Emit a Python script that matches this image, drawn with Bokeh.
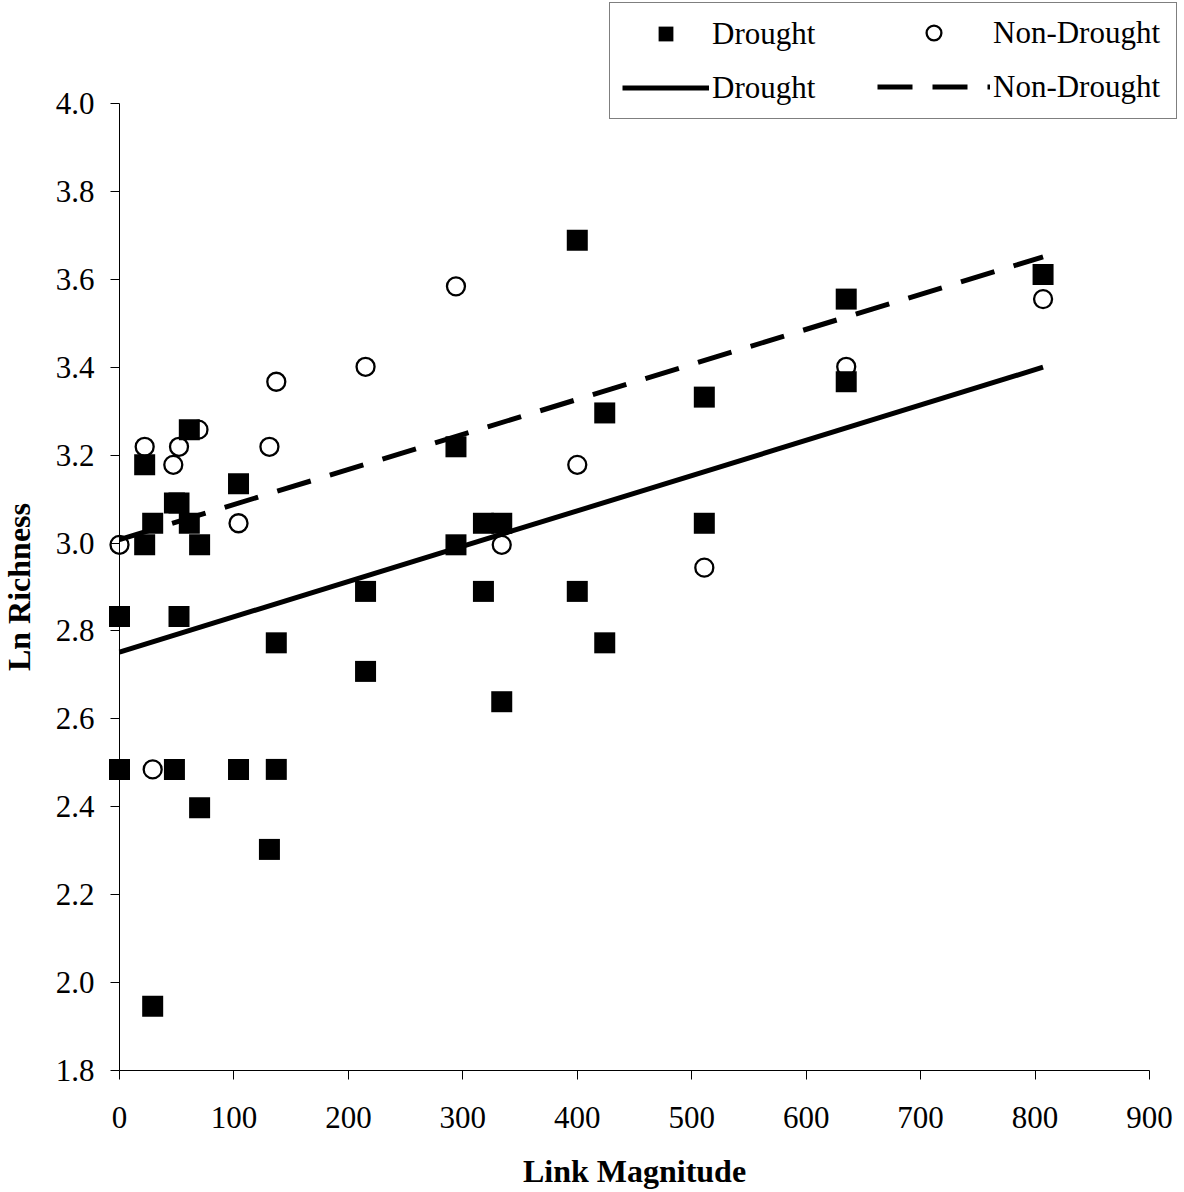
import numpy as np
from bokeh.plotting import figure
from bokeh.models import (Range1d, FixedTicker, PrintfTickFormatter, Legend,
                          LegendItem, ColumnDataSource)
from bokeh.embed import file_html
from bokeh.resources import INLINE

# Link magnitude vs. ln(species richness), drought and non-drought years
drought_x = [0, 0, 22, 22, 29, 29, 48, 52, 52, 48, 61, 61, 70, 70, 104, 104,
             137, 137, 131, 215, 215, 294, 294, 318, 334, 318, 334, 400, 400,
             424, 424, 511, 511, 635, 635, 807]
drought_y = [2.833, 2.485, 3.178, 2.996, 3.045, 1.946, 3.091, 3.091, 2.833,
             2.485, 3.045, 3.258, 2.996, 2.398, 3.135, 2.485, 2.773, 2.485,
             2.303, 2.890, 2.708, 3.219, 2.996, 3.045, 3.045, 2.890, 2.639,
             3.689, 2.890, 3.296, 2.773, 3.332, 3.045, 3.555, 3.367, 3.611]

nondrought_x = [0, 22, 29, 47, 52, 69, 104, 131, 137, 215, 294, 334, 400,
                511, 635, 807]
nondrought_y = [2.996, 3.219, 2.485, 3.178, 3.219, 3.258, 3.045, 3.219, 3.367,
                3.401, 3.584, 2.996, 3.178, 2.944, 3.401, 3.555]

# Linear fits (intercept, slope) over the sampled range of link magnitude
drought_fit = (2.752, 0.000803)
nondrought_fit = (3.008, 0.000797)
fit_x = [0, 807]

x_ticks = [0, 100, 200, 300, 400, 500, 600, 700, 800, 900]
y_ticks = [1.8, 2.0, 2.2, 2.4, 2.6, 2.8, 3.0, 3.2, 3.4, 3.6, 3.8, 4.0]

FONT = "Liberation Serif"
W, H = 1184, 1192

# Axes span 0..900 and 1.8..4.0 on a 1030 x 967 px area whose lower-left
# corner sits at (119, 1070); the drawing frame covers the whole canvas so
# that edge markers and the legend are never clipped.
ax_left, ax_bottom, ax_w, ax_h = 119, 1070, 1030, 967
x0, x1 = 0, 900
y0, y1 = 1.8, 4.0
sx = (x1 - x0) / ax_w
sy = (y1 - y0) / ax_h
x_range = Range1d(x0 - ax_left * sx, x1 + (W - ax_left - ax_w) * sx)
y_range = Range1d(y0 - (H - ax_bottom) * sy, y1 + (ax_bottom - ax_h) * sy)

p = figure(width=W, height=H, output_backend="svg", toolbar_location=None,
           x_range=x_range, y_range=y_range, min_border=0)
p.outline_line_color = None
p.grid.visible = False
p.background_fill_color = "white"
p.border_fill_color = "white"

for ax in (p.xaxis[0], p.yaxis[0]):
    ax.axis_line_color = "black"
    ax.axis_line_width = 1
    ax.major_tick_line_color = "black"
    ax.major_tick_line_width = 1
    ax.major_tick_out = 9
    ax.major_tick_in = 0
    ax.minor_tick_line_color = None
    ax.major_label_text_font = FONT
    ax.major_label_text_font_size = "31px"
    ax.major_label_text_color = "black"
    ax.axis_label_text_font = FONT
    ax.axis_label_text_font_size = "32px"
    ax.axis_label_text_font_style = "bold"
    ax.axis_label_text_color = "black"

p.xaxis.fixed_location = y0
p.yaxis.fixed_location = x0
p.xaxis.bounds = (x0, x1)
p.yaxis.bounds = (y0, y1)
p.xaxis.ticker = FixedTicker(ticks=x_ticks)
p.yaxis.ticker = FixedTicker(ticks=y_ticks)
p.yaxis.formatter = PrintfTickFormatter(format="%.1f")
p.xaxis.axis_label = "Link Magnitude"
p.yaxis.axis_label = "Ln Richness"
p.xaxis.major_label_standoff = 27
p.xaxis.axis_label_standoff = 22
p.yaxis.major_label_standoff = 16
p.yaxis.axis_label_standoff = 16

src_d = ColumnDataSource(dict(x=drought_x, y=drought_y))
src_n = ColumnDataSource(dict(x=nondrought_x, y=nondrought_y))

r_circ = p.scatter("x", "y", source=src_n, marker="circle", size=18,
                   fill_color="white", line_color="black", line_width=2.3)
r_sq = p.scatter("x", "y", source=src_d, marker="square", size=21,
                 fill_color="black", line_color=None)

fx = np.array(fit_x, dtype=float)
r_line = p.line(fx, drought_fit[0] + drought_fit[1] * fx,
                line_color="black", line_width=5)
r_dash = p.line(fx, nondrought_fit[0] + nondrought_fit[1] * fx,
                line_color="black", line_width=5, line_dash="35 20")

legend_style = dict(orientation="vertical", glyph_height=37, label_standoff=3,
                    padding=12, spacing=17, margin=0,
                    label_text_font=FONT, label_text_font_size="31px",
                    label_text_baseline="middle", label_text_color="black")

# legend boxes are positioned by their lower-left corner (px from frame bottom-left)
leg_left = Legend(items=[LegendItem(label="Drought", renderers=[r_sq]),
                         LegendItem(label="Drought", renderers=[r_line])],
                  location=(609, H - 119), glyph_width=87, label_width=452,
                  border_line_color="black", border_line_width=1,
                  background_fill_color="white", background_fill_alpha=1.0,
                  **legend_style)
leg_right = Legend(items=[LegendItem(label="Non-Drought", renderers=[r_circ]),
                          LegendItem(label="Non-Drought", renderers=[r_dash])],
                   location=(877, H - 105), glyph_width=113,
                   border_line_color=None, background_fill_alpha=0.0,
                   **legend_style)
p.add_layout(leg_left)
p.add_layout(leg_right)

open("out.html", "w").write(file_html(p, INLINE))
